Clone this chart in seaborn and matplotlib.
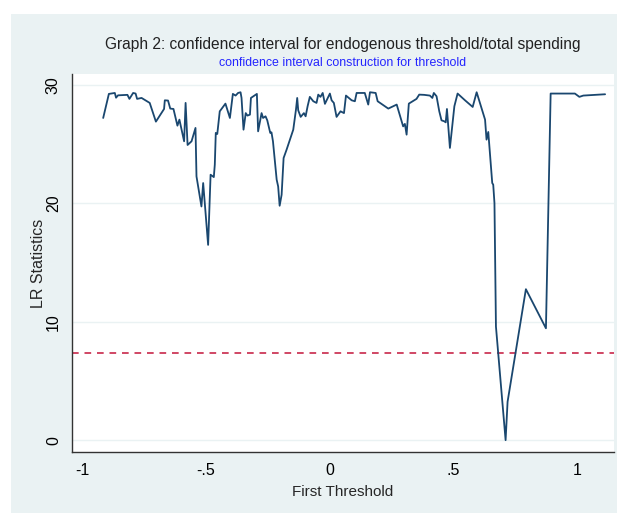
import matplotlib
matplotlib.use("Agg")
import matplotlib.pyplot as plt
import seaborn as sns
import pandas as pd
from matplotlib.patches import Rectangle

# threshold grid and LR statistics
threshold = [
    -0.914, -0.891, -0.867, -0.862, -0.854, -0.816, -0.808, -0.793, -0.783, -0.777,
    -0.759, -0.726, -0.701, -0.668, -0.665, -0.652, -0.643, -0.630, -0.614, -0.606,
    -0.587, -0.581, -0.573, -0.557, -0.541, -0.537, -0.517, -0.510, -0.490, -0.480,
    -0.467, -0.463, -0.459, -0.453, -0.443, -0.420, -0.402, -0.390, -0.379, -0.369,
    -0.359, -0.355, -0.347, -0.338, -0.331, -0.321, -0.317, -0.293, -0.288, -0.274,
    -0.268, -0.258, -0.251, -0.239, -0.234, -0.228, -0.213, -0.207, -0.201, -0.193,
    -0.185, -0.173, -0.146, -0.135, -0.130, -0.126, -0.116, -0.103, -0.096, -0.088,
    -0.079, -0.065, -0.052, -0.045, -0.036, -0.027, -0.018, 0.002, 0.009, 0.018,
    0.029, 0.045, 0.059, 0.067, 0.090, 0.103, 0.110, 0.143, 0.157, 0.164,
    0.187, 0.195, 0.238, 0.272, 0.298, 0.305, 0.312, 0.321, 0.343, 0.352,
    0.363, 0.383, 0.406, 0.416, 0.422, 0.433, 0.444, 0.453, 0.464, 0.470,
    0.475, 0.487, 0.505, 0.518, 0.548, 0.579, 0.595, 0.629, 0.635, 0.642,
    0.658, 0.662, 0.667, 0.673, 0.712, 0.720, 0.794, 0.875, 0.894, 0.992,
    1.010, 1.026, 1.114,
]
lr_stat = [
    27.19, 29.22, 29.30, 28.90, 29.10, 29.14, 28.80, 29.30, 29.25, 28.80,
    28.88, 28.46, 26.88, 27.95, 28.68, 28.66, 27.98, 27.95, 26.54, 27.05,
    25.22, 28.46, 24.91, 25.22, 26.35, 22.26, 19.72, 21.70, 16.48, 22.40,
    22.20, 23.25, 25.93, 25.84, 27.75, 28.40, 27.19, 29.22, 29.08, 29.30,
    29.36, 28.88, 26.20, 27.60, 27.39, 27.47, 28.88, 29.22, 26.06, 27.60,
    27.19, 27.33, 26.99, 25.93, 25.98, 25.22, 21.98, 21.41, 19.78, 20.71,
    23.81, 24.51, 26.20, 27.90, 28.88, 27.84, 27.28, 27.60, 27.33, 28.18,
    28.97, 28.60, 28.46, 29.16, 28.97, 29.30, 28.38, 29.25, 28.68, 28.46,
    27.28, 27.75, 27.60, 29.08, 28.68, 28.60, 29.30, 29.30, 28.32, 29.36,
    29.30, 28.60, 27.98, 28.32, 26.48, 26.69, 25.78, 28.40, 28.68, 28.80,
    29.16, 29.14, 29.08, 28.88, 29.30, 29.02, 27.75, 26.99, 26.91, 26.82,
    27.95, 24.66, 28.18, 29.25, 28.68, 28.12, 29.36, 27.05, 25.36, 26.01,
    21.70, 21.56, 20.00, 9.58, 0.00, 3.24, 12.74, 9.44, 29.25, 29.25,
    28.97, 29.08, 29.19,
]
critical_value = 7.35

x_ticks = [-1, -0.5, 0, 0.5, 1]
x_tick_labels = ["-1", "-.5", "0", ".5", "1"]
y_ticks = [0, 10, 20, 30]
y_tick_labels = ["0", "10", "20", "30"]

df = pd.DataFrame({"threshold": threshold, "lr": lr_stat})

sns.set_style("white")
plt.rcParams["font.family"] = ["Liberation Sans", "DejaVu Sans"]

fig = plt.figure(figsize=(6.17, 5.13), dpi=100)
fig.patch.set_facecolor("white")
# stata-like graph region
fig.patches.append(Rectangle((11 / 617, 0), 1, (513 - 14) / 513,
                             transform=fig.transFigure, facecolor="#eaf2f3",
                             edgecolor="none", zorder=-10))

ax = fig.add_axes([72 / 617, (513 - 452) / 513, (614 - 72) / 617, (452 - 74) / 513])
ax.set_facecolor("white")

for yt in y_ticks:
    ax.axhline(yt, color="#eaf2f3", linewidth=1.0, zorder=0)

sns.lineplot(data=df, x="threshold", y="lr", ax=ax, sort=False, estimator=None,
             color="#1a476f", linewidth=1.3, zorder=3)
ax.axhline(critical_value, color="#c8284a", linestyle=(0, (4, 3.5)), linewidth=1.2, zorder=2)

ax.set_xlim(-1.04, 1.15)
ax.set_ylim(-1.0, 30.9)
ax.set_xticks(x_ticks)
ax.set_xticklabels(x_tick_labels, fontsize=11.5)
ax.set_yticks(y_ticks)
ax.set_yticklabels(y_tick_labels, fontsize=11.5, rotation=90, va="center")
ax.tick_params(axis="both", direction="out", length=5, width=1, color="#333333",
               labelcolor="black", pad=3)

for side in ["top", "right"]:
    ax.spines[side].set_visible(False)
for side in ["left", "bottom"]:
    ax.spines[side].set_color("#333333")
    ax.spines[side].set_linewidth(1.0)

ax.set_xlabel("First Threshold", fontsize=11, labelpad=5)
ax.set_ylabel("LR Statistics", fontsize=11.5, labelpad=0)

fig.text(343 / 617, 1 - 44 / 513, "Graph 2: confidence interval for endogenous threshold/total spending",
         ha="center", va="center", fontsize=11.2, color="#222222")
fig.text(343 / 617, 1 - 63 / 513, "confidence interval construction for threshold",
         ha="center", va="center", fontsize=8.9, color="#2424ff")

fig.savefig("out.png", dpi=100)
